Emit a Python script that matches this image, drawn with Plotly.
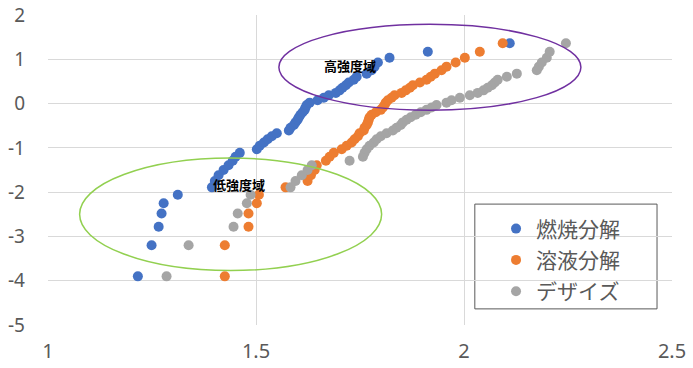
import plotly.graph_objects as go

# Weibull plotting positions (y) shared by all three series
y_vals = [-3.902, -3.198, -2.783, -2.484, -2.250, -2.057, -1.892, -1.747, -1.617, -1.500,
          -1.392, -1.293, -1.200, -1.113, -1.031, -0.953, -0.878, -0.807, -0.738, -0.672,
          -0.607, -0.545, -0.484, -0.425, -0.367, -0.309, -0.253, -0.197, -0.142, -0.087,
          -0.033, 0.021, 0.076, 0.131, 0.186, 0.241, 0.298, 0.356, 0.415, 0.476,
          0.539, 0.606, 0.676, 0.752, 0.834, 0.927, 1.034, 1.169, 1.364]

x_combustion = [1.216, 1.249, 1.266, 1.273, 1.278, 1.312, 1.394, 1.401, 1.410, 1.422,
                1.434, 1.444, 1.451, 1.461, 1.502, 1.509, 1.519, 1.528, 1.538, 1.550,
                1.579, 1.583, 1.591, 1.595, 1.600, 1.603, 1.607, 1.612, 1.617, 1.619,
                1.622, 1.629, 1.648, 1.663, 1.675, 1.692, 1.701, 1.708, 1.716, 1.723,
                1.735, 1.742, 1.766, 1.778, 1.785, 1.793, 1.821, 1.913, 2.110]

x_solution = [1.425, 1.425, 1.482, 1.482, 1.502, 1.507, 1.571, 1.624, 1.632, 1.641,
              1.646, 1.668, 1.677, 1.687, 1.706, 1.718, 1.730, 1.737, 1.745, 1.749,
              1.759, 1.761, 1.766, 1.769, 1.771, 1.773, 1.778, 1.788, 1.800, 1.805,
              1.809, 1.812, 1.817, 1.826, 1.833, 1.850, 1.860, 1.870, 1.877, 1.894,
              1.910, 1.920, 1.930, 1.946, 1.958, 1.980, 2.002, 2.038, 2.093]

x_design = [1.285, 1.338, 1.446, 1.456, 1.478, 1.487, 1.583, 1.595, 1.610, 1.624,
            1.634, 1.725, 1.757, 1.761, 1.766, 1.773, 1.783, 1.790, 1.800, 1.814,
            1.829, 1.838, 1.848, 1.853, 1.862, 1.872, 1.884, 1.896, 1.910, 1.922,
            1.934, 1.958, 1.970, 1.990, 2.014, 2.033, 2.047, 2.057, 2.067, 2.074,
            2.081, 2.103, 2.127, 2.175, 2.180, 2.187, 2.199, 2.206, 2.245]

series_names = ["燃焼分解", "溶液分解", "デザイズ"]
series_colors = ["#4472C4", "#ED7D31", "#A5A5A5"]
series_x = [x_combustion, x_solution, x_design]

x_ticks = [1, 1.5, 2, 2.5]
x_tick_text = ["1", "1.5", "2", "2.5"]
y_ticks = [-5, -4, -3, -2, -1, 0, 1, 2]
y_tick_text = ["-5", "-4", "-3", "-2", "-1", "0", "1", "2"]

fig = go.Figure()
for name, color, xs in zip(series_names, series_colors, series_x):
    fig.add_trace(go.Scatter(
        x=xs, y=y_vals, mode="markers", name=name, legendgroup=name,
        marker=dict(color=color, size=10, line=dict(width=0)),
    ))

# region ellipses
fig.add_shape(type="circle", xref="x", yref="y", x0=1.076, x1=1.802, y0=-3.77, y1=-1.23,
              line=dict(color="#92D050", width=1.5), layer="above")
fig.add_shape(type="circle", xref="x", yref="y", x0=1.555, x1=2.281, y0=-0.15, y1=1.79,
              line=dict(color="#7030A0", width=1.5), layer="above")

fig.add_annotation(x=1.458, y=-1.83, text="<b>低強度域</b>", showarrow=False,
                   font=dict(family="Noto Sans CJK JP", size=13, color="#000000"))
fig.add_annotation(x=1.727, y=0.87, text="<b>高強度域</b>", showarrow=False,
                   font=dict(family="Noto Sans CJK JP", size=13, color="#000000"))

# legend frame
fig.add_shape(type="rect", xref="paper", yref="paper", x0=0.684, x1=0.976, y0=0.052, y1=0.39,
              line=dict(color="#595959", width=1), fillcolor="white", layer="below")

fig.update_layout(
    width=693, height=368,
    margin=dict(l=48, r=21, t=15, b=43),
    paper_bgcolor="white", plot_bgcolor="rgba(0,0,0,0)",
    showlegend=True,
    legend=dict(x=0.718, y=0.376, xanchor="left", yanchor="top",
                bgcolor="rgba(0,0,0,0)", borderwidth=0,
                font=dict(family="Noto Sans CJK JP", size=21, color="#595959"),
                tracegroupgap=1, itemsizing="trace", itemwidth=30),
    xaxis=dict(range=[1, 2.5], tickvals=x_ticks, ticktext=x_tick_text, automargin=False,
               showgrid=True, gridcolor="#D9D9D9", gridwidth=1, zeroline=False,
               showline=False, ticks="", ticklabelstandoff=12, ticklabeloverflow="allow",
               tickfont=dict(family="Noto Sans", size=20, color="#595959")),
    yaxis=dict(range=[-5, 2], tickvals=y_ticks, ticktext=y_tick_text, automargin=False,
               showgrid=True, gridcolor="#D9D9D9", gridwidth=1, zeroline=False,
               showline=False, ticks="", ticklabelstandoff=22, ticklabeloverflow="allow",
               tickfont=dict(family="Noto Sans", size=19, color="#595959")),
)

fig.write_html("out.html")
